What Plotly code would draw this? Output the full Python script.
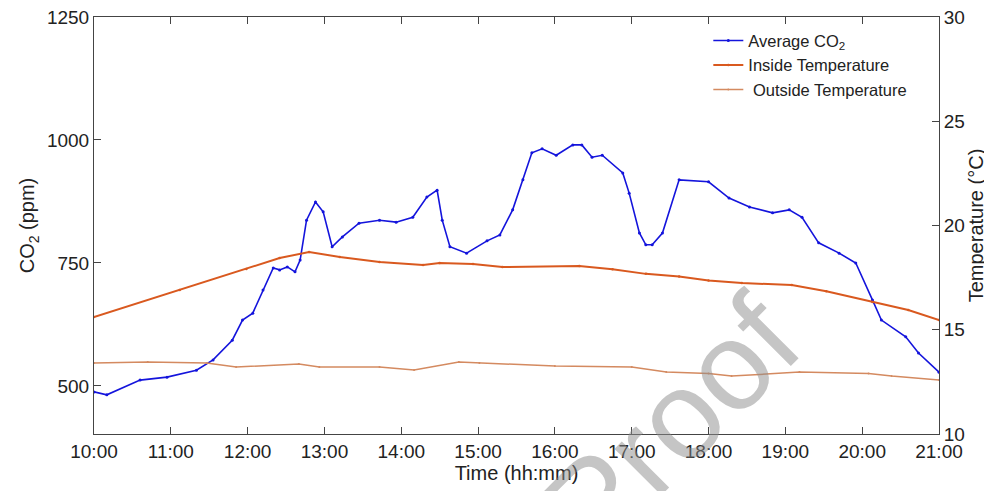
import plotly.graph_objects as go

# ---- data ----
co2_time = ["10:00","10:10","10:36","10:57","11:20","11:33","11:48","11:56","12:04","12:12",
            "12:20","12:25","12:31","12:37","12:41","12:46","12:53","12:59","13:06","13:14",
            "13:27","13:43","13:56","14:09","14:20","14:28","14:32","14:38","14:51","15:07",
            "15:17","15:27","15:35","15:42","15:50","16:01","16:14","16:21","16:29","16:37",
            "16:53","16:58","17:06","17:11","17:16","17:24","17:37","18:00","18:16","18:32",
            "18:50","19:03","19:13","19:26","19:42","19:55","20:08","20:15","20:34","20:44","21:00"]
co2_ppm = [488, 482, 512, 518, 532, 553, 593, 634, 648, 695,
           740, 736, 742, 732, 756, 837, 874, 854, 783, 803,
           831, 837, 833, 843, 884, 898, 837, 783, 770, 795,
           807, 858, 919, 974, 982, 969, 990, 990, 965, 969,
           933, 892, 811, 787, 787, 811, 919, 915, 882, 864,
           852, 858, 843, 791, 770, 750, 675, 634, 600, 567, 528]

in_time = ["10:00","11:07","11:59","12:25","12:48","13:12","13:43","14:17","14:30","14:56",
           "15:19","16:19","16:45","17:11","17:37","18:00","18:26","19:05","19:32","20:08",
           "20:36","21:00"]
in_temp = [15.61, 16.91, 17.91, 18.44, 18.73, 18.49, 18.25, 18.11, 18.20, 18.15,
           18.01, 18.06, 17.90, 17.68, 17.55, 17.36, 17.24, 17.15, 16.85, 16.33,
           15.95, 15.47]

out_time = ["10:00","10:42","11:28","11:51","12:40","12:56","13:43","14:10","14:45","15:01",
            "16:00","17:00","17:27","18:00","18:18","19:11","20:05","20:23","21:00"]
out_temp = [13.41, 13.45, 13.41, 13.21, 13.36, 13.21, 13.21, 13.07, 13.45, 13.41,
            13.26, 13.21, 12.97, 12.90, 12.78, 12.97, 12.90, 12.78, 12.59]

tick_labels = ["10:00","11:00","12:00","13:00","14:00","15:00","16:00",
               "17:00","18:00","19:00","20:00","21:00"]

def ts(hhmm):
    return "2000-01-01 " + hhmm

FONT = "Liberation Sans, Arial, sans-serif"

fig = go.Figure()
fig.add_trace(go.Scatter(
    x=[ts(t) for t in co2_time], y=co2_ppm, name="Average CO<sub>2</sub>",
    mode="lines+markers", line=dict(color="#1414dc", width=1.6),
    marker=dict(size=3, color="#1414dc"), yaxis="y"))
fig.add_trace(go.Scatter(
    x=[ts(t) for t in in_time], y=in_temp, name="Inside Temperature",
    mode="lines+markers", line=dict(color="#d9591f", width=2),
    marker=dict(size=2.5, color="#d9591f"), yaxis="y2"))
fig.add_trace(go.Scatter(
    x=[ts(t) for t in out_time], y=out_temp, name=" Outside Temperature",
    mode="lines+markers", line=dict(color="#d48a60", width=1.5),
    marker=dict(size=2, color="#d48a60"), yaxis="y2"))

# the page body adds an 8 px margin, so the figure is 8 px smaller each way
fig.update_layout(
    width=984, height=483,
    margin=dict(l=86, r=53, t=9, b=57),
    paper_bgcolor="white", plot_bgcolor="white",
    font=dict(family=FONT, size=19, color="#222"),
    showlegend=True,
    legend=dict(x=0.727, y=0.985, xanchor="left", yanchor="top",
                bgcolor="rgba(0,0,0,0)", borderwidth=0,
                font=dict(size=16.5, color="#222"), tracegroupgap=0),
    xaxis=dict(
        type="date", automargin=False,
        range=[ts("10:00"), ts("21:00")],
        tickvals=[ts(t) for t in tick_labels], ticktext=tick_labels,
        ticks="inside", ticklen=7, tickcolor="#444",
        showline=True, linecolor="#444", linewidth=1, mirror="ticks",
        showgrid=False, zeroline=False, ticklabeloverflow="allow",
        title=dict(text="Time (hh:mm)", standoff=0, font=dict(size=20)),
        tickfont=dict(size=19),
    ),
    yaxis=dict(
        automargin=False,
        range=[402.4, 1250], tickvals=[500, 750, 1000, 1250],
        ticks="inside", ticklen=7, tickcolor="#444",
        showline=True, linecolor="#444", linewidth=1,
        showgrid=False, zeroline=False, ticklabeloverflow="allow",
        title=dict(text="CO<sub>2</sub> (ppm)", standoff=6, font=dict(size=20)),
        tickfont=dict(size=19),
    ),
    yaxis2=dict(
        overlaying="y", side="right", automargin=False,
        range=[10, 30], tickvals=[10, 15, 20, 25, 30],
        ticks="inside", ticklen=7, tickcolor="#444",
        showline=True, linecolor="#444", linewidth=1,
        showgrid=False, zeroline=False, ticklabeloverflow="allow",
        title=dict(text="Temperature (°C)", standoff=4, font=dict(size=20)),
        tickfont=dict(size=19),
    ),
    annotations=[dict(
        text="Proof", xref="paper", yref="paper", x=0.684, y=0.024,
        xanchor="center", yanchor="middle", showarrow=False, textangle=-45,
        font=dict(family=FONT, size=125, color="rgba(140,140,140,0.5)"),
    )],
)

fig.write_html("out.html")
